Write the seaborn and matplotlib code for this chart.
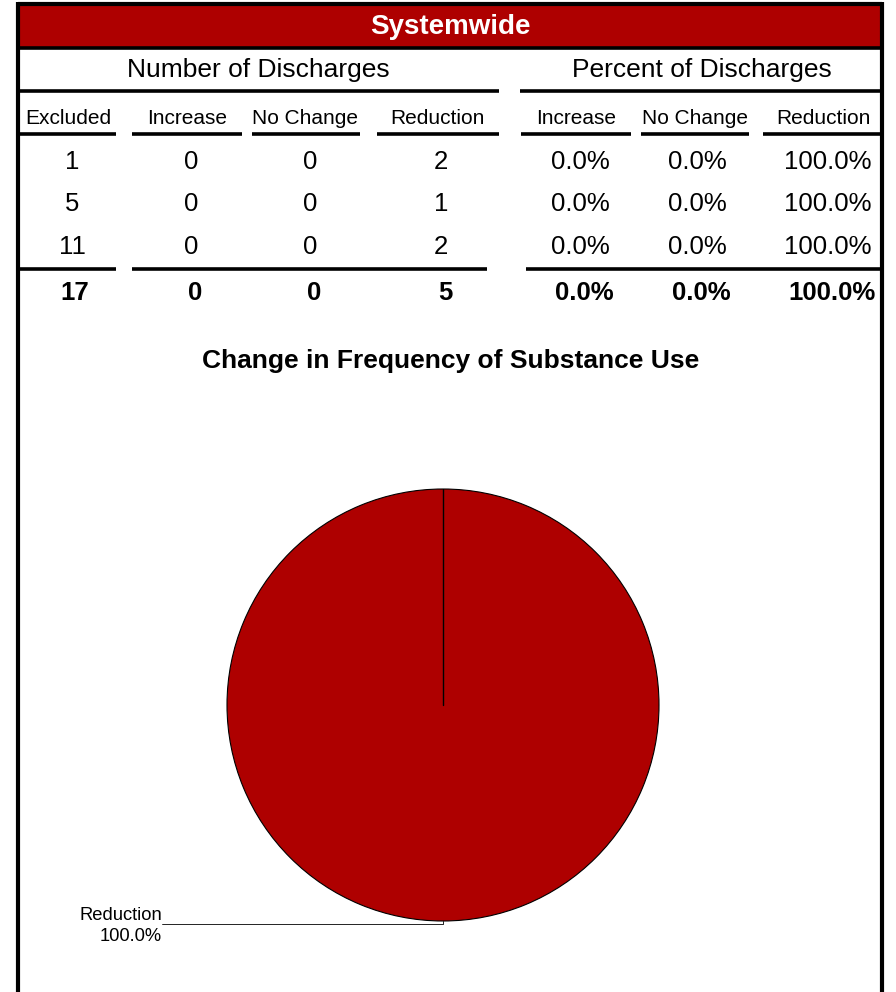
import matplotlib
matplotlib.use("Agg")
import matplotlib.pyplot as plt
import seaborn as sns
import numpy as np

# ---------------- data ----------------
region = "Systemwide"
group_headers = ["Number of Discharges", "Percent of Discharges"]
col_headers = ["Excluded", "Increase", "No Change", "Reduction", "Increase", "No Change", "Reduction"]
excluded = [1, 5, 11]
n_increase = [0, 0, 0]
n_no_change = [0, 0, 0]
n_reduction = [2, 1, 2]
pct_increase = [0.0, 0.0, 0.0]
pct_no_change = [0.0, 0.0, 0.0]
pct_reduction = [100.0, 100.0, 100.0]
totals_counts = [17, 0, 0, 5]
totals_pct = [0.0, 0.0, 100.0]
chart_title = "Change in Frequency of Substance Use"
pie_categories = ["Increase", "No Change", "Reduction"]
pie_values = [0.0, 0.0, 100.0]
pie_colors = ["#FFFFFF", "#C0C0C0", "#AE0000"]

RED = "#AE0000"

sns.set_theme(style="white")
plt.rcParams["font.family"] = ["Liberation Sans", "DejaVu Sans"]
plt.rcParams["text.color"] = "black"

W, H = 896, 992
fig = plt.figure(figsize=(W / 100, H / 100), dpi=100)
fig.patch.set_facecolor("white")

# ---------------- pie ----------------
cx, cy, r = 443, 705, 216
start = 90
pax = fig.add_axes([(cx - r) / W, (H - cy - r) / H, 2 * r / W, 2 * r / H])
wedges, _ = pax.pie(pie_values, colors=pie_colors, startangle=start, counterclock=False,
                    radius=1.0, wedgeprops=dict(edgecolor="black", linewidth=0.8))
pax.set_xlim(-1, 1)
pax.set_ylim(-1, 1)
pax.set_aspect("equal")
pax.axis("off")
# slice boundary at the start angle (zero-size slices share it)
a = np.deg2rad(start)
pax.plot([0, np.cos(a)], [0, np.sin(a)], color="black", lw=1.0)
# label for the nonzero slice
for cat, val in zip(pie_categories, pie_values):
    if val > 0:
        lx = (162 - cx) / r
        ly = (cy - 924) / r
        pax.plot([lx, 0, 0], [ly, ly, -1.0], color="black", lw=0.6, clip_on=False)
        pax.text(lx, ly - 0.01, f"{cat}\n{val:.1f}%", ha="right", va="center",
                 multialignment="right", fontsize=13.2, color="black",
                 linespacing=1.3, clip_on=False)

# ---------------- table overlay ----------------
ax = fig.add_axes([0, 0, 1, 1], facecolor="none")
ax.set_xlim(0, W)
ax.set_ylim(H, 0)
ax.axis("off")

L, R = 18, 882
# red header band
ax.add_patch(plt.Rectangle((L, 3.5), R - L, 44.5, facecolor=RED, edgecolor="none"))
ax.text((L + R) / 2, 27.5, region, ha="center", va="center", color="white",
        fontsize=20, fontweight="bold")

lw = 2.6
# frame
ax.plot([L, R], [3.5, 3.5], color="black", lw=3, solid_capstyle="butt")
ax.plot([L, R], [48, 48], color="black", lw=2.6, solid_capstyle="butt")
ax.plot([L, L], [2, H], color="black", lw=3, solid_capstyle="butt")
ax.plot([R, R], [2, H], color="black", lw=3, solid_capstyle="butt")

# group headers
ax.text(258, 70.5, group_headers[0], ha="center", va="center", fontsize=19)
ax.text(702, 70.5, group_headers[1], ha="center", va="center", fontsize=19)
for x0, x1 in [(20, 499), (520, 882)]:
    ax.plot([x0, x1], [91, 91], color="black", lw=lw, solid_capstyle="butt")

# column headers
col_x = [68.5, 187, 305, 437, 576, 694.5, 823]
col_seg = [(18, 116), (132, 242), (252, 360), (377, 499), (521, 631), (641, 749), (763, 884)]
for x, lab in zip(col_x, col_headers):
    ax.text(x, 119, lab, ha="center", va="center", fontsize=15)
for x0, x1 in col_seg:
    ax.plot([x0, x1], [134, 134], color="black", lw=lw, solid_capstyle="butt")

# data rows
row_y = [162, 204, 247]
val_x = [72, 191, 310, 441, 580.5, 697.5, 828]
for i, y in enumerate(row_y):
    cells = [str(excluded[i]), str(n_increase[i]), str(n_no_change[i]), str(n_reduction[i]),
             f"{pct_increase[i]:.1f}%", f"{pct_no_change[i]:.1f}%", f"{pct_reduction[i]:.1f}%"]
    for x, c in zip(val_x, cells):
        ax.text(x, y, c, ha="center", va="center", fontsize=18.5)

# total line
for x0, x1 in [(18, 116), (132, 487), (526, 882)]:
    ax.plot([x0, x1], [268.5, 268.5], color="black", lw=lw, solid_capstyle="butt")
tot_x = [75, 195, 314, 445, 584, 701, 832]
tot_cells = [str(v) for v in totals_counts] + [f"{v:.1f}%" for v in totals_pct]
for x, c in zip(tot_x, tot_cells):
    ax.text(x, 293, c, ha="center", va="center", fontsize=18.5, fontweight="bold")

# chart title
ax.text(451, 361, chart_title, ha="center", va="center", fontsize=19, fontweight="bold")

fig.savefig("out.png", dpi=100, facecolor="white")
